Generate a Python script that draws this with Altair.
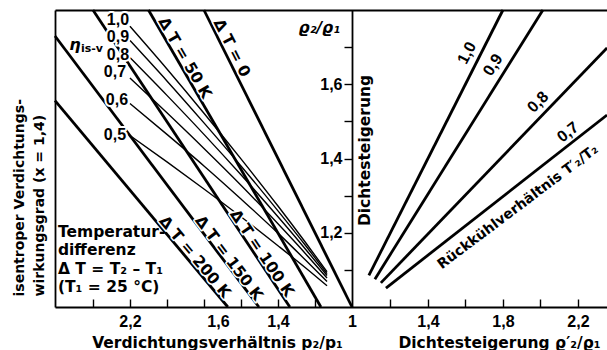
import altair as alt
import pandas as pd

# ---------------- left panel: pressure ratio p2/p1 (x, reversed) vs density ratio rho2/rho1 (y)
dT_names = ["0", "50", "100", "150", "200"]
dT_p_top = [1.800, 2.100, 2.400, 2.605, 2.605]
dT_rho_top = [1.800, 1.800, 1.800, 1.730, 1.556]
dT_p_bottom = [1.000, 1.168, 1.336, 1.503, 1.671]
dT_rho_bottom = [1.000, 1.000, 1.000, 1.000, 1.000]

eta_names = ["1,0", "0,9", "0,8", "0,7", "0,6", "0,5"]
eta_p = [2.200, 2.000, 1.800, 1.600, 1.400, 1.250, 1.135]
eta_rho_10 = [1.756, 1.641, 1.522, 1.399, 1.272, 1.173, 1.095]
eta_rho_09 = [1.718, 1.609, 1.496, 1.380, 1.259, 1.165, 1.090]
eta_rho_08 = [1.672, 1.570, 1.465, 1.356, 1.243, 1.155, 1.085]
eta_rho_07 = [1.617, 1.523, 1.427, 1.328, 1.224, 1.143, 1.078]
eta_rho_06 = [1.548, 1.465, 1.380, 1.291, 1.199, 1.126, 1.069]
eta_rho_05 = [1.462, 1.391, 1.318, 1.243, 1.165, 1.105, 1.057]

# ---------------- right panel: rho'2/rho1 (x) vs rho2/rho1 (y), Rueckkuehlverhaeltnis
r_names = ["1,0", "0,9", "0,8", "0,7"]
r_x_low = [1.085, 1.117, 1.149, 1.176]
r_y_low = [1.085, 1.075, 1.065, 1.051]
r_x_high = [1.800, 2.013, 2.355, 2.355]
r_y_high = [1.800, 1.800, 1.698, 1.517]

# ---------------- ticks and tick labels
p_ticks = [1.2, 1.4, 1.6, 1.8, 2.0, 2.2, 2.4]
p_labels = [1.0, 1.4, 1.6, 2.2]
rho_ticks = [1.1, 1.2, 1.3, 1.4, 1.5, 1.6, 1.7]
rho_labels = ["1.2", "1.4", "1.6"]
r_ticks = [1.2, 1.4, 1.6, 1.8, 2.0, 2.2]
r_labels = [1.4, 1.8, 2.2]

# ---------------- annotation texts and anchors (data coordinates)
eta_label_p = [2.265, 2.265, 2.265, 2.281, 2.270, 2.281]
eta_label_rho = [1.773, 1.727, 1.679, 1.633, 1.558, 1.463]
dT_label_text = ["Δ T = 0", "Δ T = 50 K", "Δ T = 100 K", "Δ T = 150 K", "Δ T = 200 K"]
dT_label_p = [1.649, 1.903, 1.486, 1.665, 1.849]
dT_label_rho = [1.698, 1.671, 1.145, 1.132, 1.135]
dT_label_angle = [63, 60, 56, 53, 50]
r_num_x = [1.608, 1.747, 1.987, 2.147]
r_num_y = [1.684, 1.652, 1.552, 1.471]
r_num_angle = [297, 302, 314, 322]
r_word_text = ["Rückkühlverhältnis T′₂/T₂"]
r_word_x = [1.880]
r_word_y = [1.269]
r_word_angle = [323]
block_text = ["Temperatur-\ndifferenz\nΔ T = T₂ – T₁\n(T₁ = 25 °C)"]
block_p = [2.589]
block_rho = [1.222]
eta_sym_p = [2.497]
eta_sym_rho = [1.706]
rho_title_p = [1.0]
rho_title_rho = [1.752]

FONT_T = "DejaVu Sans"
FONT_N = "Liberation Sans"
INK = "black"

xL = alt.Scale(domain=[2.605, -0.378], nice=False, zero=False)
xR = alt.Scale(domain=[-0.589, 2.355], nice=False, zero=False)
yS = alt.Scale(domain=[1.0, 1.8], nice=False, zero=False)

# ---------------- tables
dt_df = pd.DataFrame(
    [{"dT": n, "x": a, "y": b} for n, a, b in zip(dT_names, dT_p_top, dT_rho_top)]
    + [{"dT": n, "x": a, "y": b} for n, a, b in zip(dT_names, dT_p_bottom, dT_rho_bottom)]
)
eta_all = [eta_rho_10, eta_rho_09, eta_rho_08, eta_rho_07, eta_rho_06, eta_rho_05]
eta_df = pd.DataFrame(
    [{"eta": n, "x": p, "y": r} for n, rs in zip(eta_names, eta_all) for p, r in zip(eta_p, rs)]
)
r_df = pd.DataFrame(
    [{"r": n, "x": a, "y": b} for n, a, b in zip(r_names, r_x_low, r_y_low)]
    + [{"r": n, "x": a, "y": b} for n, a, b in zip(r_names, r_x_high, r_y_high)]
)
eta_lab_df = pd.DataFrame({"x": eta_label_p, "y": eta_label_rho, "t": eta_names})
dT_lab_df = pd.DataFrame({"x": dT_label_p, "y": dT_label_rho, "t": dT_label_text, "a": dT_label_angle})
r_num_df = pd.DataFrame({"x": r_num_x, "y": r_num_y, "t": r_names, "a": r_num_angle})
r_word_df = pd.DataFrame({"x": r_word_x, "y": r_word_y, "t": r_word_text, "a": r_word_angle})
block_df = pd.DataFrame({"x": block_p, "y": block_rho, "t": block_text})
eta_sym_df = pd.DataFrame({"x": eta_sym_p, "y": eta_sym_rho, "t": ["η"], "s": ["is-v"]})
rho_title_df = pd.DataFrame({"x": rho_title_p, "y": rho_title_rho, "t": ["ϱ₂/ϱ₁"]})

common = dict(grid=False, labelColor=INK, tickColor=INK, domainColor=INK, titleColor=INK)

ax_p_bottom = alt.Axis(
    orient="bottom", values=p_labels, ticks=False, tickSize=0, domain=True, domainWidth=1.8,
    labelExpr="datum.value == 1 ? '1' : replace(format(datum.value, '.1f'), '.', ',')",
    labelOffset={"condition": {"test": "datum.value == 1.6", "value": -23}, "value": 0},
    labelFont=FONT_N, labelFontSize=16, labelFontWeight="bold", labelPadding=6,
    labelFlush=False, labelOverlap=False,
    title="Verdichtungsverhältnis p₂/p₁", titleFont=FONT_T, titleFontSize=15.5,
    titleFontWeight="bold", titleX=162, titleY=40, titleAlign="center",
    titleBaseline="alphabetic", **common)
ax_left_y = alt.Axis(
    orient="left", labels=False, ticks=False, domain=True, domainWidth=1.8,
    title=["isentroper Verdichtungs-", "wirkungsgrad (x = 1,4)"], titleFont=FONT_T,
    titleFontSize=14, titleFontWeight="bold", titleX=-43, titleY=286, titleAngle=270,
    titleAlign="left", titleBaseline="top", titleLineHeight=20, **common)
ax_p_ticks = alt.Axis(
    orient="top", offset=-297, values=p_ticks, labels=False, ticks=True, tickSize=8,
    tickWidth=1.4, domain=False, title=None, **common)
ax_top_frame = alt.Axis(
    orient="top", labels=False, ticks=False, domain=True, domainWidth=1.8, title=None, **common)
rho_test = "indexof([" + ",".join("'%s'" % v for v in rho_labels) + "], format(datum.value, '.1f')) >= 0"
ax_center = alt.Axis(
    orient="left", offset=-297, values=rho_ticks, ticks=True, tickSize=8, tickWidth=1.4,
    domain=True, domainWidth=1.8,
    labelExpr=rho_test + " ? replace(format(datum.value, '.1f'), '.', ',') : ''",
    labelFont=FONT_N, labelFontSize=16, labelFontWeight="bold", labelPadding=2,
    labelOverlap=False, labelFlush=False,
    title="Dichtesteigerung", titleFont=FONT_T, titleFontSize=15.5, titleFontWeight="bold",
    titleX=5, titleY=140, titleAngle=270, titleAlign="center", titleBaseline="top", **common)
ax_r_bottom = alt.Axis(
    orient="bottom", values=r_labels, ticks=False, tickSize=0, domain=False,
    labelExpr="replace(format(datum.value, '.1f'), '.', ',')",
    labelFont=FONT_N, labelFontSize=16, labelFontWeight="bold", labelPadding=6,
    labelFlush=False, labelOverlap=False,
    title="Dichtesteigerung ϱ′₂/ϱ₁", titleFont=FONT_T, titleFontSize=15.5,
    titleFontWeight="bold", titleX=444, titleY=40, titleAlign="center",
    titleBaseline="alphabetic", **common)
ax_r_ticks = alt.Axis(
    orient="top", offset=-297, values=r_ticks, labels=False, ticks=True, tickSize=8,
    tickWidth=1.4, domain=False, title=None, **common)

# ---------------- line layers
dt_layer = alt.Chart(dt_df).mark_line(color=INK, strokeWidth=2.8).encode(
    x=alt.X("x:Q", scale=xL, axis=ax_p_bottom),
    y=alt.Y("y:Q", scale=yS, axis=ax_left_y),
    detail="dT:N",
)
eta_layer = alt.Chart(eta_df).mark_line(color=INK, strokeWidth=1.4, interpolate="monotone").encode(
    x=alt.X("x:Q", scale=xL, axis=ax_p_ticks),
    y=alt.Y("y:Q", scale=yS, axis=None),
    detail="eta:N",
    order=alt.Order("x:Q", sort="descending"),
)
r_layer = alt.Chart(r_df).mark_line(color=INK, strokeWidth=2.8).encode(
    x=alt.X("x:Q", scale=xR, axis=ax_r_bottom),
    y=alt.Y("y:Q", scale=yS, axis=ax_center),
    detail="r:N",
)


def text_layers(df, xscale, font, size, halo=0, xaxis=None, angle=False, **mk):
    enc = dict(x=alt.X("x:Q", scale=xscale, axis=None), y=alt.Y("y:Q", scale=yS, axis=None),
               text=alt.Text("t:N"))
    if angle:
        enc["angle"] = alt.Angle("a:Q", scale=None)
    out = []
    if halo:
        out.append(alt.Chart(df).mark_text(font=font, fontSize=size, fontWeight="bold", color="white",
                                           stroke="white", strokeWidth=halo, strokeJoin="round", **mk).encode(**enc))
    enc2 = dict(enc)
    if xaxis is not None:
        enc2["x"] = alt.X("x:Q", scale=xscale, axis=xaxis)
    out.append(alt.Chart(df).mark_text(font=font, fontSize=size, fontWeight="bold", color=INK, **mk).encode(**enc2))
    return out


layers = [dt_layer, eta_layer, r_layer]
layers += text_layers(eta_lab_df, xL, FONT_N, 16, halo=4, align="center", baseline="middle")
layers += text_layers(dT_lab_df, xL, FONT_T, 15.5, halo=3, angle=True, align="center", baseline="middle")
layers += text_layers(block_df, xL, FONT_T, 15.5, align="left", baseline="top", lineBreak="\n", lineHeight=18.5)
layers += text_layers(eta_sym_df, xL, FONT_T, 16, align="center", baseline="middle", fontStyle="italic")
layers.append(alt.Chart(eta_sym_df).mark_text(font=FONT_T, fontSize=11, fontWeight="bold", color=INK,
                                              align="left", baseline="middle", dx=6, dy=4).encode(
    x=alt.X("x:Q", scale=xL, axis=None), y=alt.Y("y:Q", scale=yS, axis=None), text="s:N"))
layers += text_layers(rho_title_df, xL, FONT_T, 15.5, xaxis=ax_top_frame, align="right",
                      baseline="middle", dx=-12, fontStyle="italic")
layers += text_layers(r_num_df, xR, FONT_N, 16, xaxis=ax_r_ticks, angle=True, align="center", baseline="middle")
layers += text_layers(r_word_df, xR, FONT_T, 14, angle=True, align="center", baseline="middle")

chart = (
    alt.layer(*layers)
    .resolve_scale(x="independent")
    .resolve_axis(x="independent", y="independent")
    .properties(width=552, height=297, autosize=alt.AutoSizeParams(type="none"),
                padding={"left": 55, "top": 10, "right": 0, "bottom": 43}, background="white")
    .configure_view(stroke=None)
)

chart.save("out.html", embed_options={"renderer": "svg", "actions": False})
